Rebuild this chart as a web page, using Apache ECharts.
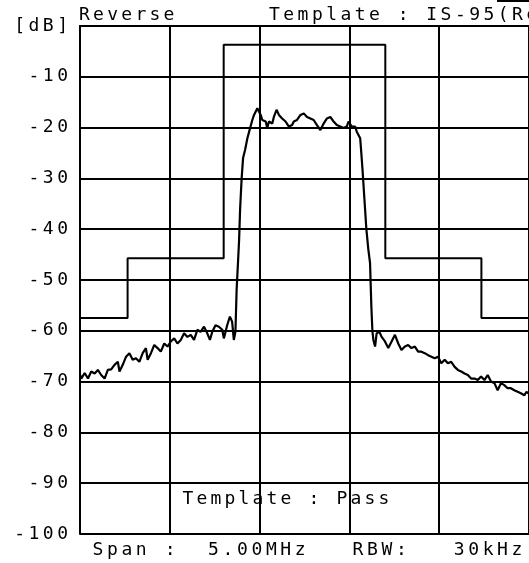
<!DOCTYPE html>
<html>
<head>
<meta charset="utf-8">
<script src="https://cdn.jsdelivr.net/npm/echarts@6/dist/echarts.min.js"></script>
<style>
html,body{margin:0;padding:0;background:#fff;}
#c{width:529px;height:563px;}
</style>
</head>
<body>
<div id="c"></div>
<script>
// ---- data (frequency in MHz from span start, level in dB) ----
const yTickValues = [0, -10, -20, -30, -40, -50, -60, -70, -80, -90, -100];
const yTickLabels = ['[dB]', '-10', '-20', '-30', '-40', '-50', '-60', '-70', '-80', '-90', '-100'];

const maskFreq = [0, 0.53, 0.53, 1.6, 1.6, 3.4, 3.4, 4.47, 4.47, 5];
const maskDb   = [-57.5, -57.5, -45.7, -45.7, -3.7, -3.7, -45.7, -45.7, -57.5, -57.5];

const traceFreq = [
  0.000,0.014,0.052,0.089,0.125,0.163,0.199,0.236,0.274,0.310,0.347,0.384,0.421,0.440,0.476,0.513,
  0.550,0.587,0.623,0.661,0.698,0.734,0.753,0.790,0.827,0.864,0.900,0.938,0.975,1.011,1.049,1.085,
  1.122,1.159,1.196,1.233,1.270,1.307,1.343,1.381,1.417,1.447,1.473,1.509,1.547,1.584,1.602,1.639,
  1.669,1.694,1.713,1.731,1.744,1.761,1.772,1.783,1.800,1.816,1.838,1.864,1.894,1.919,1.938,1.975,
  1.993,2.012,2.030,2.049,2.068,2.085,2.104,2.123,2.141,2.159,2.189,2.215,2.251,2.289,2.326,2.362,
  2.381,2.417,2.455,2.492,2.528,2.566,2.602,2.639,2.677,2.713,2.750,2.787,2.824,2.860,2.898,2.935,
  2.971,2.990,3.027,3.064,3.082,3.120,3.126,3.145,3.167,3.189,3.211,3.230,3.244,3.256,3.267,3.286,
  3.303,3.333,3.359,3.396,3.433,3.470,3.507,3.544,3.580,3.618,3.654,3.691,3.729,3.765,3.802,3.839,
  3.876,3.913,3.950,3.987,4.023,4.061,4.097,4.134,4.172,4.208,4.245,4.282,4.319,4.356,4.393,4.430,
  4.466,4.504,4.540,4.577,4.615,4.651,4.688,4.725,4.762,4.798,4.836,4.873,4.909,4.947,4.972,5.000
];
const traceDb = [
  -68.6,-69.4,-68.3,-69.4,-68.0,-68.4,-67.7,-68.7,-69.4,-67.7,-67.6,-66.7,-66.1,-68.0,-66.7,-65.1,
  -64.4,-65.7,-65.4,-66.1,-64.4,-63.4,-65.7,-64.4,-62.8,-63.4,-64.1,-62.5,-63.1,-62.1,-61.5,-62.5,
  -61.8,-60.5,-61.2,-60.8,-61.8,-59.8,-60.2,-59.2,-60.5,-61.8,-60.2,-58.9,-59.2,-59.8,-61.5,-58.9,
  -57.2,-58.2,-61.8,-60.2,-52.0,-46.0,-42.0,-36.0,-30.0,-26.0,-24.4,-22.1,-20.1,-18.5,-17.5,-16.2,
  -15.9,-17.5,-18.5,-18.2,-18.8,-20.1,-18.8,-18.5,-19.2,-17.9,-16.5,-17.5,-18.2,-18.8,-19.8,-19.5,
  -18.8,-18.5,-17.5,-17.2,-17.9,-18.2,-18.5,-19.5,-20.5,-19.2,-18.2,-17.9,-18.8,-19.5,-19.8,-20.1,
  -19.8,-18.8,-19.8,-19.8,-20.8,-22.1,-23.4,-28.0,-34.0,-40.0,-44.0,-46.7,-55.0,-60.0,-61.8,-63.1,
  -60.5,-60.2,-61.2,-62.1,-63.4,-62.1,-60.8,-62.5,-63.8,-63.1,-62.8,-63.4,-63.1,-64.1,-64.1,-64.4,
  -64.8,-65.1,-65.4,-65.1,-66.4,-65.7,-66.4,-66.1,-67.1,-67.7,-68.0,-68.4,-68.7,-69.4,-69.4,-69.7,
  -69.0,-69.7,-68.7,-70.0,-70.3,-71.7,-70.3,-70.7,-71.3,-71.3,-71.7,-72.0,-72.3,-72.7,-72.0,-72.4
];

const titleLeft = 'Reverse';
const titleRight = 'Template : IS-95(Re';
const verdictText = 'Template : Pass';
const footerText = 'Span :  5.00MHz   RBW:   30kHz';

// ---- rendering ----
const FONT = '"DejaVu Sans Mono", "Liberation Mono", monospace';
const FS = 18;
function cells(s) {
  return s.split('').map(ch => '{c|' + ch + '}').join('');
}
function richCell(w) {
  return { c: { width: w, fontFamily: FONT, fontSize: FS, color: '#000' } };
}
function textEl(str, x, y, w) {
  return {
    type: 'text', x: x, y: y, silent: true,
    style: {
      text: cells(str), rich: richCell(w),
      fontFamily: FONT, fontSize: FS, fill: '#000',
      align: 'left', verticalAlign: 'middle'
    }
  };
}

const chart = echarts.init(document.getElementById('c'), null, { renderer: 'canvas' });
const lineBlack = { color: '#000', width: 2 };

chart.setOption({
  animation: false,
  backgroundColor: '#fff',
  grid: { left: 80, top: 26, right: -2.5, bottom: 29, containLabel: false },
  xAxis: {
    type: 'value', min: 0, max: 5, interval: 1,
    axisLine: { show: true, lineStyle: lineBlack },
    axisTick: { show: false },
    axisLabel: { show: false },
    splitLine: { show: true, lineStyle: lineBlack }
  },
  yAxis: {
    type: 'value', min: -100, max: 0, interval: 10,
    axisLine: { show: true, lineStyle: lineBlack },
    axisTick: { show: false },
    splitLine: { show: true, lineStyle: lineBlack },
    axisLabel: {
      margin: 12,
      fontFamily: FONT, fontSize: FS, color: '#000',
      formatter: function (v) {
        const i = yTickValues.indexOf(Math.round(v));
        return cells(i >= 0 ? yTickLabels[i] : String(v));
      },
      rich: richCell(14.3)
    }
  },
  series: [
    {
      name: 'Template', type: 'line', symbol: 'none',
      data: maskFreq.map((f, i) => [f, maskDb[i]]),
      lineStyle: { color: '#000', width: 2 },
      z: 3
    },
    {
      name: 'Trace', type: 'line', symbol: 'none',
      data: traceFreq.map((f, i) => [f, traceDb[i]]),
      lineStyle: { color: '#000', width: 2.2 },
      z: 4
    }
  ],
  graphic: [
    textEl(titleLeft, 79, 15.5, 14.1),
    textEl(titleRight, 269, 15.5, 14.3),
    textEl(verdictText, 182.5, 499, 14.0),
    textEl(footerText, 92.5, 550, 14.45),
    { type: 'rect', silent: true, shape: { x: 497, y: 0, width: 32, height: 2 }, style: { fill: '#000' } }
  ]
});
</script>
</body>
</html>
